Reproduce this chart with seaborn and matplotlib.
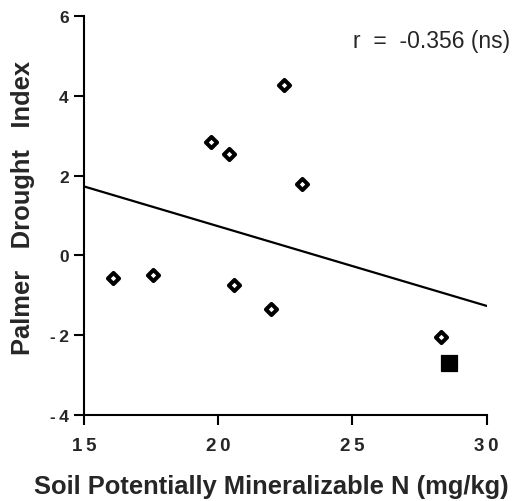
import numpy as np
import pandas as pd
import matplotlib
matplotlib.use('Agg')
import matplotlib.pyplot as plt
import seaborn as sns

# data
soil_n = [16.07, 17.58, 20.60, 19.72, 20.41, 22.45, 23.12, 21.97, 28.29]
pdi = [-0.58, -0.49, -0.75, 2.85, 2.54, 4.27, 1.78, -1.36, -2.05]
outlier_n = [28.61]
outlier_pdi = [-2.70]
fit_x = [15, 30]
fit_y = [1.73, -1.27]
x_ticks = [15, 20, 25, 30]
x_ticklabels = ['1\u20095', '2\u20090', '2\u20095', '3\u20090']
y_ticks = [-4, -2, 0, 2, 4, 6]
y_ticklabels = ['-\u20094', '-\u20092', '0', '2', '4', '6']

sns.set_style('ticks')
plt.rcParams['font.family'] = ['Liberation Sans', 'DejaVu Sans']

fig = plt.figure(figsize=(5.15, 5.02), dpi=100)
ax = fig.add_axes([0.163, 0.172, 0.782, 0.7935])

pts = pd.DataFrame({'n': soil_n, 'pdi': pdi})
out = pd.DataFrame({'n': outlier_n, 'pdi': outlier_pdi})
fit = pd.DataFrame({'n': fit_x, 'pdi': fit_y})

sns.lineplot(data=fit, x='n', y='pdi', ax=ax, color='black', linewidth=1.6)
sns.scatterplot(data=pts, x='n', y='pdi', ax=ax, marker='D', s=32,
                facecolor='white', edgecolor='black', linewidth=2.9, zorder=3)
sns.scatterplot(data=out, x='n', y='pdi', ax=ax, marker='s', s=125,
                color='black', edgecolor='black', zorder=3)

ax.set_xlim(15, 30)
ax.set_ylim(-4, 6)
ax.set_xticks(x_ticks)
ax.set_xticklabels(x_ticklabels, fontsize=13.5, fontweight='bold')
ax.set_yticks(y_ticks)
ax.set_yticklabels(y_ticklabels, fontsize=12.5, fontweight='bold')
ax.tick_params(direction='out', length=7, width=1.5, color='black')
ax.tick_params(axis='x', pad=9)
ax.tick_params(axis='y', pad=4)
for s in ['top', 'right']:
    ax.spines[s].set_visible(False)
for s in ['left', 'bottom']:
    ax.spines[s].set_linewidth(1.5)
    ax.spines[s].set_color('black')
ax.set_xlabel('')
ax.set_ylabel('')

fig.text(0.527, 0.03, 'Soil Potentially Mineralizable N (mg/kg)',
         ha='center', va='center', fontsize=18.4, fontweight='bold')
fig.text(0.044, 0.585, 'Palmer   Drought   Index', rotation=90,
         ha='center', va='center', fontsize=18.4, fontweight='bold')
fig.text(0.99, 0.918, 'r  =  -0.356 (ns)', ha='right', va='center', fontsize=16.5)

plt.savefig('out.png', dpi=100, facecolor='white')
plt.close()
